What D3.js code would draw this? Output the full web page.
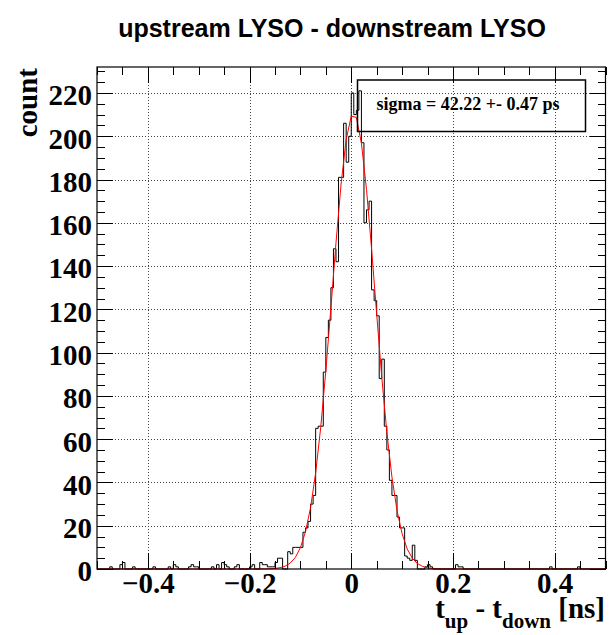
<!DOCTYPE html>
<html>
<head>
<meta charset="utf-8">
<script src="https://cdn.jsdelivr.net/npm/d3@7"></script>
<style>
  html, body { margin: 0; padding: 0; background: #fff; }
  svg { display: block; }
</style>
</head>
<body>
<svg id="chart" width="616" height="635"></svg>
<script>
// ---------------- data ----------------
const titleText = "upstream LYSO - downstream LYSO";
const yTitle = "count";
const legendText = "sigma = 42.22 +- 0.47 ps";

const histLow = -0.5;
const histHigh = 0.5;
const binWidth = 0.005;
// counts per bin (200 bins from -0.5 to 0.5 ns)
const counts = [
  0,0,0,0,0,1,0,0,0,2,
  3,0,0,0,1,0,0,0,0,0,
  0,0,1,0,0,0,0,0,1,0,
  2,1,0,0,0,0,1,2,1,1,
  0,0,0,0,0,1,0,2,0,3,
  2,1,0,0,1,2,0,0,0,0,
  1,2,0,0,3,2,2,1,1,1,
  3,5,5,0,0,8,7,10,10,10,
  10,17,19,22,30,34,65,66,66,91,
  107,115,130,148,142,181,181,206,188,200,
  220,210,212,221,197,160,166,170,129,124,
  117,88,97,66,55,41,34,34,24,19,
  19,6,5,4,11,4,0,0,0,1,
  2,1,0,0,0,0,0,0,0,0,
  0,2,1,1,0,0,0,0,0,0,
  0,0,0,0,0,0,0,0,0,0,
  0,0,0,0,0,0,0,0,0,0,
  0,0,0,0,0,0,0,0,1,0,
  0,0,0,0,0,0,0,0,0,1,
  0,0,0,0,0,0,0,0,0,0
];

// gaussian fit parameters (constant, mean [ns], sigma [ns])
const fitConstant = 210.5;
const fitMean = 0.0045;
const fitSigma = 0.04222;
const fitNpx = 100;

const xMajorTicks = [-0.4, -0.2, 0, 0.2, 0.4];
const xTickLabels = ["\u22120.4", "\u22120.2", "0", "0.2", "0.4"];
const xMinorTicks = d3.range(-0.5, 0.5001, 0.05).map(v => +v.toFixed(3));
const yMajorTicks = [0, 20, 40, 60, 80, 100, 120, 140, 160, 180, 200, 220];
const yMinorTicks = d3.range(0, 231, 5);
const yMax = 232;

// ---------------- layout ----------------
const svg = d3.select("#chart");
const L = 97, R = 605.5, T = 67, B = 569;
const x = d3.scaleLinear().domain([histLow, histHigh]).range([L, R]);
const y = d3.scaleLinear().domain([0, yMax]).range([B, T]);
const serif = "'Liberation Serif', 'Times New Roman', serif";
const sans = "'Liberation Sans', Arial, Helvetica, sans-serif";
const crisp = v => Math.round(v) + 0.5;

// grid
const grid = svg.append("g").attr("stroke", "#444").attr("stroke-width", 1)
  .attr("stroke-dasharray", "1 2").attr("shape-rendering", "crispEdges");
grid.selectAll(".gx").data(xMajorTicks).join("line")
  .attr("x1", d => crisp(x(d))).attr("x2", d => crisp(x(d)))
  .attr("y1", T).attr("y2", B);
grid.selectAll(".gy").data(yMajorTicks.filter(d => d > 0)).join("line")
  .attr("x1", L).attr("x2", R)
  .attr("y1", d => crisp(y(d))).attr("y2", d => crisp(y(d)));

// histogram (step outline)
const pts = [[x(histLow), y(0)]];
counts.forEach((c, i) => {
  const x0 = histLow + i * binWidth, x1 = x0 + binWidth;
  pts.push([x(x0), y(c)], [x(x1), y(c)]);
});
pts.push([x(histHigh), y(0)]);
svg.append("path")
  .attr("d", d3.line()(pts))
  .attr("fill", "none").attr("stroke", "#000").attr("stroke-width", 1);

// fit curve
const fitPts = d3.range(fitNpx + 1).map(k => {
  const xv = histLow + k * (histHigh - histLow) / fitNpx;
  const z = (xv - fitMean) / fitSigma;
  return [x(xv), y(fitConstant * Math.exp(-0.5 * z * z))];
});
svg.append("path")
  .attr("d", d3.line()(fitPts))
  .attr("fill", "none").attr("stroke", "#ff0000").attr("stroke-width", 1);

// axes
function styleAxis(g) {
  g.select(".domain").remove();
  g.selectAll(".tick line").attr("stroke", "#000").attr("stroke-width", 1);
  g.attr("shape-rendering", "crispEdges");
}
// bottom
svg.append("g").attr("transform", `translate(0,${B})`)
  .call(d3.axisBottom(x).tickValues(xMinorTicks).tickSizeInner(-7.7).tickSizeOuter(0).tickFormat(""))
  .call(styleAxis);
const xb = svg.append("g").attr("transform", `translate(0,${B})`)
  .call(d3.axisBottom(x).tickValues(xMajorTicks).tickSizeInner(-15.7).tickSizeOuter(0)
    .tickPadding(3).tickFormat((d, i) => xTickLabels[i]))
  .call(styleAxis);
xb.selectAll("text").attr("font-family", serif).attr("font-weight", "bold")
  .attr("font-size", 29).attr("fill", "#000");
// top
svg.append("g").attr("transform", `translate(0,${T})`)
  .call(d3.axisTop(x).tickValues(xMinorTicks).tickSizeInner(-7.7).tickSizeOuter(0).tickFormat(""))
  .call(styleAxis);
svg.append("g").attr("transform", `translate(0,${T})`)
  .call(d3.axisTop(x).tickValues(xMajorTicks).tickSizeInner(-15.7).tickSizeOuter(0).tickFormat(""))
  .call(styleAxis);
// left
svg.append("g").attr("transform", `translate(${L},0)`)
  .call(d3.axisLeft(y).tickValues(yMinorTicks).tickSizeInner(-7.7).tickSizeOuter(0).tickFormat(""))
  .call(styleAxis);
const yl = svg.append("g").attr("transform", `translate(${L},0)`)
  .call(d3.axisLeft(y).tickValues(yMajorTicks).tickSizeInner(-15.7).tickSizeOuter(0)
    .tickPadding(5).tickFormat(d3.format("d")))
  .call(styleAxis);
yl.selectAll("text").attr("font-family", serif).attr("font-weight", "bold")
  .attr("font-size", 29).attr("fill", "#000").attr("dy", "0.41em");
// right
svg.append("g").attr("transform", `translate(${R},0)`)
  .call(d3.axisRight(y).tickValues(yMinorTicks).tickSizeInner(-7.7).tickSizeOuter(0).tickFormat(""))
  .call(styleAxis);
svg.append("g").attr("transform", `translate(${R},0)`)
  .call(d3.axisRight(y).tickValues(yMajorTicks).tickSizeInner(-15.7).tickSizeOuter(0).tickFormat(""))
  .call(styleAxis);

// frame
svg.append("rect").attr("x", L).attr("y", T).attr("width", R - L).attr("height", B - T)
  .attr("fill", "none").attr("stroke", "#000").attr("stroke-width", 1.2);

// legend box
svg.append("rect").attr("x", 357.5).attr("y", 80).attr("width", 228).attr("height", 51.5)
  .attr("fill", "none").attr("stroke", "#000").attr("stroke-width", 1.5);
svg.append("text").attr("x", 468).attr("y", 110).attr("text-anchor", "middle")
  .attr("font-family", serif).attr("font-weight", "bold").attr("font-size", 18)
  .text(legendText);

// title
const tt = svg.append("text").attr("x", 332).attr("y", 37).attr("text-anchor", "middle")
  .attr("font-family", sans).attr("font-weight", "bold").attr("font-size", 20)
  .text(titleText);
const tw = tt.node().getComputedTextLength();
tt.attr("font-size", 20 * 428 / tw);

// y title
svg.append("text").attr("transform", "translate(36.7,68) rotate(-90)")
  .attr("text-anchor", "end")
  .attr("font-family", serif).attr("font-weight", "bold").attr("font-size", 29)
  .text(yTitle);

// x title: t_up - t_down [ns]
const xt = svg.append("text").attr("x", 605).attr("y", 618).attr("text-anchor", "end")
  .attr("font-family", serif).attr("font-weight", "bold").attr("font-size", 29);
xt.append("tspan").text("t");
xt.append("tspan").attr("font-size", 21).attr("dy", 10).text("up");
xt.append("tspan").attr("dy", -10).text(" - t");
xt.append("tspan").attr("font-size", 21).attr("dy", 10).text("down");
xt.append("tspan").attr("dy", -10).text(" [ns]");
</script>
</body>
</html>
